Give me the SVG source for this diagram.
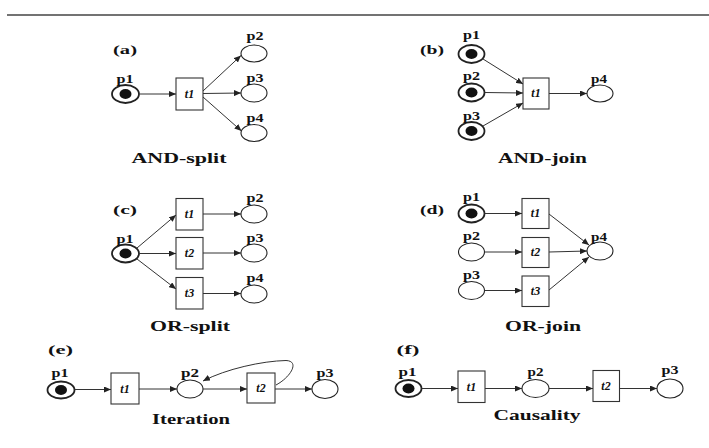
<svg xmlns="http://www.w3.org/2000/svg" width="709" height="448" viewBox="0 0 709 448">
<defs>
<marker id="ah" markerUnits="userSpaceOnUse" markerWidth="7" markerHeight="6" refX="7" refY="3" orient="auto">
<path d="M0,0 L7,3 L0,6 z" fill="#222"/>
</marker>
<style>
.pl{fill:#fff;stroke:#222;stroke-width:1.1}
.mk{fill:#fff;stroke:#222;stroke-width:1.8}
.tok{fill:#111}
.tr{fill:#fff;stroke:#333;stroke-width:1.1}
.arc{fill:none;stroke:#333;stroke-width:1;marker-end:url(#ah)}
text{font-family:"Liberation Serif","DejaVu Serif",serif;fill:#111;font-weight:bold}
.lb{font-size:12px;text-anchor:middle}
.cp{font-size:15px;text-anchor:middle}
.tn{font-size:12px;font-style:italic;text-anchor:middle}
.hd{font-size:13px;text-anchor:middle}
</style>
</defs>
<rect width="709" height="448" fill="#fff"/>
<line x1="7" y1="15" x2="709" y2="15" stroke="#444" stroke-width="1.6"/>

<!-- (a) AND-split -->
<g id="a-title"><text class="hd" x="125" y="54" textLength="24" lengthAdjust="spacingAndGlyphs">(a)</text></g>
<g id="a-p1"><ellipse class="mk" cx="125.5" cy="94" rx="13.5" ry="9"/><ellipse class="tok" cx="125.5" cy="94" rx="6" ry="5"/><text class="lb" x="125" y="83" textLength="17" lengthAdjust="spacingAndGlyphs">p1</text></g>
<g id="a-t1"><rect class="tr" x="176" y="78" width="27" height="32"/><text class="tn" x="189.5" y="98">t1</text></g>
<g id="a-p2"><ellipse class="pl" cx="254" cy="53.5" rx="13" ry="8.5"/><text class="lb" x="255" y="40" textLength="17" lengthAdjust="spacingAndGlyphs">p2</text></g>
<g id="a-p3"><ellipse class="pl" cx="254" cy="93" rx="13" ry="9"/><text class="lb" x="255" y="82" textLength="17" lengthAdjust="spacingAndGlyphs">p3</text></g>
<g id="a-p4"><ellipse class="pl" cx="254" cy="133" rx="13" ry="8.5"/><text class="lb" x="255" y="122" textLength="17" lengthAdjust="spacingAndGlyphs">p4</text></g>
<text class="cp" x="179" y="163" textLength="95" lengthAdjust="spacingAndGlyphs">AND-split</text>

<!-- (b) AND-join -->
<g id="b-title"><text class="hd" x="432" y="54" textLength="24" lengthAdjust="spacingAndGlyphs">(b)</text></g>
<g id="b-p1"><ellipse class="mk" cx="471.5" cy="54" rx="13" ry="9"/><ellipse class="tok" cx="471.5" cy="54" rx="6" ry="5"/><text class="lb" x="471.5" y="39" textLength="17" lengthAdjust="spacingAndGlyphs">p1</text></g>
<g id="b-p2"><ellipse class="mk" cx="471.5" cy="92.5" rx="13" ry="9"/><ellipse class="tok" cx="471.5" cy="92.5" rx="6" ry="5"/><text class="lb" x="471.5" y="80" textLength="17" lengthAdjust="spacingAndGlyphs">p2</text></g>
<g id="b-p3"><ellipse class="mk" cx="471.5" cy="131" rx="13" ry="9"/><ellipse class="tok" cx="471.5" cy="131" rx="6" ry="5"/><text class="lb" x="471.5" y="120" textLength="17" lengthAdjust="spacingAndGlyphs">p3</text></g>
<g id="b-t1"><rect class="tr" x="523" y="78" width="26" height="31"/><text class="tn" x="536" y="97">t1</text></g>
<g id="b-p4"><ellipse class="pl" cx="600" cy="93.5" rx="13" ry="8.5"/><text class="lb" x="599" y="83" textLength="16" lengthAdjust="spacingAndGlyphs">p4</text></g>
<text class="cp" x="542.5" y="163" textLength="89" lengthAdjust="spacingAndGlyphs">AND-join</text>

<!-- (c) OR-split -->
<g id="c-title"><text class="hd" x="125" y="214" textLength="24" lengthAdjust="spacingAndGlyphs">(c)</text></g>
<g id="c-p1"><ellipse class="mk" cx="125.5" cy="253.5" rx="13.5" ry="9"/><ellipse class="tok" cx="125.5" cy="253.5" rx="6" ry="5"/><text class="lb" x="125" y="243" textLength="17" lengthAdjust="spacingAndGlyphs">p1</text></g>
<g id="c-t1"><rect class="tr" x="176" y="198.5" width="27" height="31.5"/><text class="tn" x="189.5" y="218">t1</text></g>
<g id="c-t2"><rect class="tr" x="176" y="237.5" width="27" height="31.5"/><text class="tn" x="189.5" y="257">t2</text></g>
<g id="c-t3"><rect class="tr" x="176" y="277.5" width="27" height="31.5"/><text class="tn" x="189.5" y="297">t3</text></g>
<g id="c-p2"><ellipse class="pl" cx="254" cy="214" rx="13" ry="9"/><text class="lb" x="255" y="202" textLength="17" lengthAdjust="spacingAndGlyphs">p2</text></g>
<g id="c-p3"><ellipse class="pl" cx="254" cy="253" rx="13" ry="9"/><text class="lb" x="255" y="242" textLength="17" lengthAdjust="spacingAndGlyphs">p3</text></g>
<g id="c-p4"><ellipse class="pl" cx="254" cy="294" rx="13" ry="9"/><text class="lb" x="255" y="282" textLength="17" lengthAdjust="spacingAndGlyphs">p4</text></g>
<text class="cp" x="190" y="331" textLength="80" lengthAdjust="spacingAndGlyphs">OR-split</text>

<!-- (d) OR-join -->
<g id="d-title"><text class="hd" x="432" y="214" textLength="24" lengthAdjust="spacingAndGlyphs">(d)</text></g>
<g id="d-p1"><ellipse class="mk" cx="471.5" cy="213.5" rx="13" ry="9"/><ellipse class="tok" cx="471.5" cy="213.5" rx="6" ry="5"/><text class="lb" x="471.5" y="201" textLength="17" lengthAdjust="spacingAndGlyphs">p1</text></g>
<g id="d-p2"><ellipse class="pl" cx="471.5" cy="252" rx="13" ry="9"/><text class="lb" x="471.5" y="240" textLength="17" lengthAdjust="spacingAndGlyphs">p2</text></g>
<g id="d-p3"><ellipse class="pl" cx="471.5" cy="290.5" rx="13" ry="9"/><text class="lb" x="471.5" y="279" textLength="17" lengthAdjust="spacingAndGlyphs">p3</text></g>
<g id="d-t1"><rect class="tr" x="522" y="198.5" width="27" height="30"/><text class="tn" x="535.5" y="217">t1</text></g>
<g id="d-t2"><rect class="tr" x="522" y="237.5" width="27" height="30"/><text class="tn" x="535.5" y="256">t2</text></g>
<g id="d-t3"><rect class="tr" x="522" y="276" width="27" height="30.5"/><text class="tn" x="535.5" y="295">t3</text></g>
<g id="d-p4"><ellipse class="pl" cx="600" cy="251" rx="13" ry="9"/><text class="lb" x="599" y="241" textLength="16" lengthAdjust="spacingAndGlyphs">p4</text></g>
<text class="cp" x="543" y="331" textLength="76" lengthAdjust="spacingAndGlyphs">OR-join</text>

<!-- (e) Iteration -->
<g id="e-title"><text class="hd" x="60.5" y="354" textLength="25" lengthAdjust="spacingAndGlyphs">(e)</text></g>
<g id="e-p1"><ellipse class="mk" cx="61" cy="390" rx="13.5" ry="8.5"/><ellipse class="tok" cx="61" cy="390" rx="6" ry="5"/><text class="lb" x="60" y="377" textLength="17" lengthAdjust="spacingAndGlyphs">p1</text></g>
<g id="e-t1"><rect class="tr" x="111" y="373" width="28" height="31"/><text class="tn" x="125" y="393">t1</text></g>
<g id="e-p2"><ellipse class="pl" cx="190" cy="389" rx="13" ry="9"/><text class="lb" x="190" y="377" textLength="18" lengthAdjust="spacingAndGlyphs">p2</text></g>
<g id="e-t2"><rect class="tr" x="247" y="373" width="28" height="30"/><text class="tn" x="261" y="392">t2</text></g>
<g id="e-p3"><ellipse class="pl" cx="325" cy="389" rx="13" ry="9.5"/><text class="lb" x="325" y="377" textLength="17" lengthAdjust="spacingAndGlyphs">p3</text></g>
<text class="cp" x="191" y="424" textLength="78" lengthAdjust="spacingAndGlyphs">Iteration</text>

<!-- (f) Causality -->
<g id="f-title"><text class="hd" x="408" y="354" textLength="23" lengthAdjust="spacingAndGlyphs">(f)</text></g>
<g id="f-p1"><ellipse class="mk" cx="408.5" cy="388.5" rx="13" ry="8.5"/><ellipse class="tok" cx="408.5" cy="388.5" rx="6" ry="5"/><text class="lb" x="407.5" y="376" textLength="18" lengthAdjust="spacingAndGlyphs">p1</text></g>
<g id="f-t1"><rect class="tr" x="458" y="371" width="27" height="31.5"/><text class="tn" x="471.5" y="391">t1</text></g>
<g id="f-p2"><ellipse class="pl" cx="535.5" cy="388.5" rx="13.5" ry="9"/><text class="lb" x="535.5" y="376" textLength="16" lengthAdjust="spacingAndGlyphs">p2</text></g>
<g id="f-t2"><rect class="tr" x="593" y="370.5" width="26.5" height="31"/><text class="tn" x="606" y="390">t2</text></g>
<g id="f-p3"><ellipse class="pl" cx="670" cy="388.5" rx="13" ry="9.5"/><text class="lb" x="670" y="374" textLength="17" lengthAdjust="spacingAndGlyphs">p3</text></g>
<text class="cp" x="537" y="420" textLength="87" lengthAdjust="spacingAndGlyphs">Causality</text>

<g id="connectors">
<!-- a -->
<line class="arc" x1="139.5" y1="94" x2="176" y2="94"/>
<line class="arc" x1="203" y1="91" x2="241" y2="55.5"/>
<line class="arc" x1="203" y1="93.5" x2="241" y2="93"/>
<line class="arc" x1="203" y1="97" x2="241.5" y2="131"/>
<!-- b -->
<line class="arc" x1="483" y1="59" x2="523" y2="84"/>
<line class="arc" x1="484.5" y1="92.5" x2="523" y2="93"/>
<line class="arc" x1="483" y1="126" x2="523" y2="103"/>
<line class="arc" x1="549" y1="93.5" x2="587" y2="93.5"/>
<!-- c -->
<line class="arc" x1="137" y1="248" x2="176" y2="215"/>
<line class="arc" x1="139" y1="253.5" x2="176" y2="253.5"/>
<line class="arc" x1="137" y1="259" x2="176" y2="289"/>
<line class="arc" x1="203" y1="214" x2="241" y2="214"/>
<line class="arc" x1="203" y1="253" x2="241" y2="253"/>
<line class="arc" x1="203" y1="293.5" x2="241" y2="293.5"/>
<!-- d -->
<line class="arc" x1="484.5" y1="213.5" x2="522" y2="213.5"/>
<line class="arc" x1="484.5" y1="252" x2="522" y2="252"/>
<line class="arc" x1="484.5" y1="290.5" x2="522" y2="290.5"/>
<line class="arc" x1="549" y1="214" x2="589" y2="245"/>
<line class="arc" x1="549" y1="252" x2="587" y2="251"/>
<line class="arc" x1="549" y1="290" x2="589" y2="257"/>
<!-- e -->
<line class="arc" x1="74.5" y1="389.5" x2="111" y2="389.5"/>
<line class="arc" x1="139" y1="389" x2="177" y2="389"/>
<line class="arc" x1="203" y1="389" x2="247" y2="389"/>
<line class="arc" x1="275" y1="389" x2="312" y2="389"/>
<path class="arc" d="M276,385 C291,377 300,361 286,360.5 C262,361 226,369 203,381"/>
<!-- f -->
<line class="arc" x1="421.5" y1="388.5" x2="458" y2="388.5"/>
<line class="arc" x1="485" y1="388.5" x2="522" y2="388.5"/>
<line class="arc" x1="549" y1="388.5" x2="593" y2="388.5"/>
<line class="arc" x1="619.5" y1="388.5" x2="657" y2="388.5"/>
</g>
</svg>
